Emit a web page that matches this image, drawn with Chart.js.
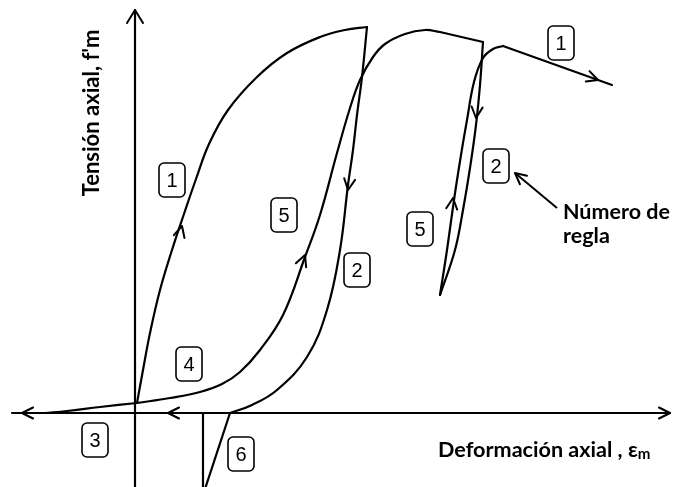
<!DOCTYPE html>
<html><head><meta charset="utf-8">
<script src="https://cdn.jsdelivr.net/npm/chart.js@4.4.1/dist/chart.umd.min.js"></script>
<style>html,body{margin:0;padding:0;background:#fff;overflow:hidden}canvas{display:block}</style>
</head><body>
<canvas id="c" width="673" height="487"></canvas>
<script>
// ---- Data (strain ε_m, stress f'm, arbitrary units) ----
const rule1Strain   = [0.02,0.08,0.15,0.25,0.37,0.50,0.61,0.74,0.93,1.22,1.52,1.85,2.10,2.32];
const rule1Stress   = [0.10,0.43,0.80,1.23,1.63,2.02,2.34,2.69,3.03,3.36,3.60,3.76,3.83,3.86];
const rule2aStrain  = [2.32,2.27,2.22,2.18,2.13,2.05,1.92,1.72,1.42,1.17,0.95];
const rule2aStress  = [3.86,3.36,2.98,2.63,2.28,1.63,1.03,0.56,0.23,0.08,0.00];
const rule6Strain   = [0.95,0.70];
const rule6Stress   = [0.00,-0.76];
const rule6bStrain  = [0.68,0.68];
const rule6bStress  = [0.00,-0.76];
const rule3Strain   = [0.02,-0.35,-0.68,-0.90];
const rule3Stress   = [0.10,0.06,0.02,0.00];
const rule45Strain  = [0.02,0.35,0.65,0.87,1.05,1.25,1.48,1.70,1.85,2.02,2.15,2.25,2.38,2.50,2.70,2.90,3.05];
const rule45Stress  = [0.10,0.15,0.21,0.29,0.41,0.63,0.98,1.56,1.98,2.60,3.05,3.33,3.56,3.69,3.79,3.83,3.81];
const plateauStrain = [3.05,3.48];
const plateauStress = [3.81,3.71];
const rule2bStrain  = [3.48,3.45,3.41,3.35,3.28,3.20,3.05];
const rule2bStress  = [3.71,3.28,2.88,2.45,2.03,1.63,1.18];
const rule5bStrain  = [3.05,3.12,3.19,3.26,3.32,3.39,3.48,3.58,3.68];
const rule5bStress  = [1.18,1.63,2.13,2.58,2.93,3.31,3.55,3.64,3.67];
const softStrain    = [3.68,4.77];
const softStress    = [3.67,3.28];
const axisXStrain   = [-1.23,5.35];
const axisXStress   = [0,0];
const axisYStrain   = [0,0];
const axisYStress   = [4.03,-0.76];

// rule-number labels
const ruleLabels   = ['1','5','2','4','3','6','1','2','5'];
const ruleLabelX   = [0.37,1.49,2.22,0.54,-0.40,1.06,4.26,3.61,2.85];
const ruleLabelY   = [2.33,1.98,1.43,0.49,-0.27,-0.41,3.70,2.47,1.84];

// direction arrows: tip and a point behind it
const arrowTipX  = [0.47,1.70,2.13,3.41,3.18,4.63,5.35,-1.13,0.33,0,3.80];
const arrowTipY  = [1.87,1.58,2.23,2.95,2.15,3.33,0,0,0,4.03,2.40];
const arrowBackX = [0.43,1.63,2.16,3.43,3.16,4.53,5.25,-1.0,0.45,0,4.22];
const arrowBackY = [1.72,1.40,2.43,3.15,1.98,3.366,0,0,0,3.9,2.05];

const pts = (xs, ys) => xs.map((x, i) => ({x, y: ys[i]}));
const line = (xs, ys, tension) => ({
  data: pts(xs, ys), showLine: true, borderColor: '#000', borderWidth: 2.2,
  pointRadius: 0, tension: tension, fill: false, borderCapStyle: 'round', borderJoinStyle: 'round'
});

const decor = {
  id: 'decor',
  afterDatasetsDraw(chart) {
    const ctx = chart.ctx, sx = chart.scales.x, sy = chart.scales.y;
    const px = v => sx.getPixelForValue(v), py = v => sy.getPixelForValue(v);
    ctx.save();
    ctx.strokeStyle = '#000'; ctx.fillStyle = '#000';
    // note arrow shaft
    ctx.lineWidth = 2;
    ctx.beginPath();
    ctx.moveTo(px(arrowTipX[10]), py(arrowTipY[10]));
    ctx.lineTo(px(arrowBackX[10]), py(arrowBackY[10]));
    ctx.stroke();
    // arrowheads (open chevrons)
    ctx.lineWidth = 2; ctx.lineCap = 'round'; ctx.lineJoin = 'round';
    for (let i = 0; i < arrowTipX.length; i++) {
      const tx = px(arrowTipX[i]), ty = py(arrowTipY[i]);
      const bx = px(arrowBackX[i]), by = py(arrowBackY[i]);
      let dx = tx - bx, dy = ty - by; const L = Math.hypot(dx, dy); dx /= L; dy /= L;
      const len = (i === 9) ? 13 : 11, hw = (i === 9) ? 8 : 5.5;
      ctx.beginPath();
      ctx.moveTo(tx - dx*len - dy*hw, ty - dy*len + dx*hw);
      ctx.lineTo(tx, ty);
      ctx.lineTo(tx - dx*len + dy*hw, ty - dy*len - dx*hw);
      ctx.stroke();
    }
    // rule number boxes
    ctx.lineWidth = 1.6;
    ctx.font = '20px "Liberation Sans", Arial, sans-serif';
    ctx.textAlign = 'center'; ctx.textBaseline = 'middle';
    for (let i = 0; i < ruleLabels.length; i++) {
      const cx = px(ruleLabelX[i]), cy = py(ruleLabelY[i]);
      const w = 26, h = 34;
      ctx.beginPath();
      ctx.roundRect(cx - w/2, cy - h/2, w, h, 5);
      ctx.stroke();
      ctx.fillText(ruleLabels[i], cx, cy + 1);
    }
    // titles / notes
    const fam = 'Lato, "Open Sans", sans-serif';
    const fit = (txt, target, weight) => {
      ctx.font = weight + ' 20px ' + fam;
      return 20 * target / ctx.measureText(txt).width;
    };
    ctx.textAlign = 'left'; ctx.textBaseline = 'middle';
    let fs = fit('Número de', 107, 'bold');
    ctx.font = 'bold ' + fs.toFixed(1) + 'px ' + fam;
    ctx.fillText('Número de', px(4.28), py(2.01));
    ctx.fillText('regla', px(4.28), py(1.77));
    // y title
    ctx.save();
    ctx.translate(px(-0.43), py(3.00));
    ctx.rotate(-Math.PI/2);
    fs = fit("Tensión axial, f'm", 167, 'bold');
    ctx.font = 'bold ' + fs.toFixed(1) + 'px ' + fam;
    ctx.textAlign = 'center';
    ctx.fillText("Tensión axial, f'm", 0, 0);
    ctx.restore();
    // x title
    const main = 'Deformación axial , ε';
    fs = fit(main, 200, 'bold');
    ctx.font = 'bold ' + fs.toFixed(1) + 'px ' + fam;
    const x0 = px(3.03), y0 = py(-0.37);
    ctx.fillText(main, x0, y0);
    const w0 = ctx.measureText(main).width;
    ctx.font = 'bold ' + (fs*0.7).toFixed(1) + 'px ' + fam;
    ctx.fillText('m', x0 + w0, y0 + 4);
    ctx.restore();
  }
};

new Chart(document.getElementById('c'), {
  type: 'scatter',
  data: { datasets: [
    line(axisXStrain, axisXStress, 0),
    line(axisYStrain, axisYStress, 0),
    line(rule1Strain, rule1Stress, 0.4),
    line(rule2aStrain, rule2aStress, 0.4),
    line(rule6Strain, rule6Stress, 0),
    line(rule6bStrain, rule6bStress, 0),
    line(rule3Strain, rule3Stress, 0.4),
    line(rule45Strain, rule45Stress, 0.4),
    line(plateauStrain, plateauStress, 0),
    line(rule2bStrain, rule2bStress, 0.4),
    line(rule5bStrain, rule5bStress, 0.4),
    line(softStrain, softStress, 0)
  ]},
  options: {
    responsive: false, animation: false, devicePixelRatio: 1,
    layout: { padding: 0 },
    plugins: { legend: { display: false }, tooltip: { enabled: false } },
    scales: {
      x: { type: 'linear', min: -1.35, max: 5.38, display: false },
      y: { type: 'linear', min: -0.74, max: 4.13, display: false }
    }
  },
  plugins: [decor]
});
</script>
</body></html>
